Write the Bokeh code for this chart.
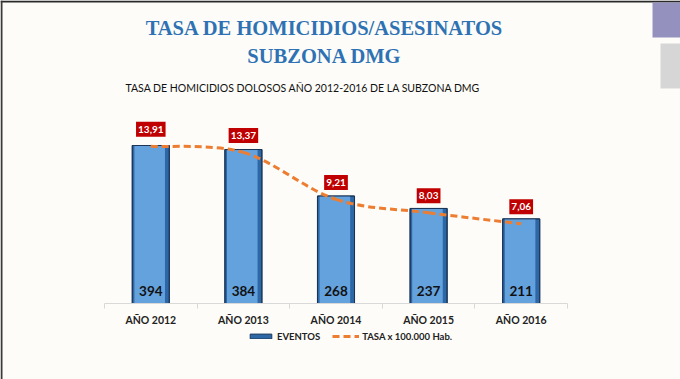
from bokeh.plotting import figure
from bokeh.models import Range1d, FixedTicker, Legend, LegendItem, Label
from bokeh.core.properties import value
from bokeh.embed import file_html
from bokeh.resources import INLINE

# ---- data ----
categories = ["AÑO 2012", "AÑO 2013", "AÑO 2014", "AÑO 2015", "AÑO 2016"]
eventos = [394, 384, 268, 237, 211]
tasa = [13.91, 13.37, 9.21, 8.03, 7.06]
tasa_labels = ["13,91", "13,37", "9,21", "8,03", "7,06"]

title_1 = "TASA DE HOMICIDIOS/ASESINATOS"
title_2 = "SUBZONA DMG"
subtitle = "TASA DE HOMICIDIOS DOLOSOS AÑO 2012-2016 DE LA SUBZONA DMG"
legend_bar = "EVENTOS"
legend_line = "TASA x 100.000 Hab."

# ---- layout constants (pixels) ----
W, H = 680, 379
BASE = 303            # baseline, px from top
LEFT, RIGHT = 104, 567
BAR_PX = 0.401        # px per event
RATE_PX = 11.3        # px per rate unit
BG = "#fdfcf8"
SANS = "Lato"

n = len(categories)
ppu = (RIGHT - LEFT) / n
xs = [i + 0.5 for i in range(n)]
below = H - BASE

p = figure(width=W, height=H, output_backend="svg", toolbar_location=None,
           x_range=Range1d(-LEFT / ppu, n + (W - RIGHT) / ppu),
           y_range=Range1d(-below / BAR_PX, BASE / BAR_PX),
           y_axis_location=None,
           min_border_left=0, min_border_right=0, min_border_top=0, min_border_bottom=0)
p.extra_y_ranges = {"rate": Range1d(-below / RATE_PX, BASE / RATE_PX), "px": Range1d(-below, BASE)}
p.extra_x_ranges = {"px": Range1d(0, W)}
p.background_fill_color = BG
p.border_fill_color = BG
p.outline_line_color = None
p.grid.visible = False

# decorative frame edges and side blocks
p.quad(left=[0], right=[W], top=[BASE], bottom=[BASE - 2], x_range_name="px", y_range_name="px",
       fill_color="#2a2a2a", line_color=None)
p.quad(left=[0], right=[2], top=[BASE], bottom=[-below], x_range_name="px", y_range_name="px",
       fill_color="#3a3a3a", line_color=None)
p.quad(left=[652], right=[W], top=[BASE - 2], bottom=[BASE - 37], x_range_name="px", y_range_name="px",
       fill_color="#9591be", line_color=None)
p.quad(left=[660], right=[W], top=[BASE - 43], bottom=[BASE - 88], x_range_name="px", y_range_name="px",
       fill_color="#d6d6d6", line_color=None)

# titles
for txt, yy in [(title_1, BASE - 27), (title_2, BASE - 55)]:
    p.add_layout(Label(x=324, y=yy, x_range_name="px", y_range_name="px", text=txt,
                       text_align="center", text_baseline="middle",
                       text_font="Liberation Serif", text_font_style="bold",
                       text_font_size="20.5px", text_color="#2e72b4"))
p.add_layout(Label(x=125, y=BASE - 87, x_range_name="px", y_range_name="px", text=subtitle,
                   text_align="left", text_baseline="middle",
                   text_font=SANS, text_font_size="10.5px", text_color="#111111"))

# bars
bar_r = p.vbar(x=xs, top=eventos, width=0.4, fill_color="#2d67a6", line_color="#1a3557", line_width=1)
p.vbar(x=[x - 0.012 for x in xs], top=eventos, width=0.33, fill_color="#64a2de", line_color=None)
p.vbar(x=xs, top=eventos, width=0.4, fill_color=None, line_color="#1a3557", line_width=1)

p.text(x=xs, y=[0] * n, text=[str(v) for v in eventos], text_align="center", text_baseline="alphabetic",
       y_offset=-13, text_font=value(SANS), text_font_style="bold", text_font_size="13.5px",
       text_color="#111111")

# smoothed dashed line (Catmull-Rom through the data points)
pts = list(zip(xs, tasa))
x0, y0, x1, y1, cx0, cy0, cx1, cy1 = ([] for _ in range(8))
for i in range(n - 1):
    pm = pts[max(i - 1, 0)]
    pa = pts[i]
    pb = pts[i + 1]
    pn = pts[min(i + 2, n - 1)]
    x0.append(pa[0]); y0.append(pa[1]); x1.append(pb[0]); y1.append(pb[1])
    cx0.append(pa[0] + (pb[0] - pm[0]) / 6); cy0.append(pa[1] + (pb[1] - pm[1]) / 6)
    cx1.append(pb[0] - (pn[0] - pa[0]) / 6); cy1.append(pb[1] - (pn[1] - pa[1]) / 6)
line_r = p.bezier(x0=x0, y0=y0, x1=x1, y1=y1, cx0=cx0, cy0=cy0, cx1=cx1, cy1=cy1,
                  y_range_name="rate", line_color="#ed7d31", line_width=3, line_dash="7 4")

# rate labels
p.text(x=xs, y=tasa, text=tasa_labels, y_range_name="rate", y_offset=-17,
       text_align="center", text_baseline="middle", text_font=value(SANS),
       text_font_style="bold", text_font_size="10px", text_color="white",
       background_fill_color="#c00000", padding=(2, 4))

# x axis drawn at the zero baseline
ax = p.xaxis[0]
ax.fixed_location = 0
ax.ticker = FixedTicker(ticks=xs, minor_ticks=[float(i) for i in range(n + 1)])
ax.major_label_overrides = {x: c for x, c in zip(xs, categories)}
ax.bounds = (0, n)
ax.axis_line_color = "#d9d9d9"
ax.major_tick_line_color = None
ax.major_tick_out = 0
ax.major_tick_in = 0
ax.minor_tick_line_color = "#d9d9d9"
ax.minor_tick_out = 5
ax.minor_tick_in = 0
ax.major_label_standoff = 5
ax.major_label_text_font = SANS
ax.major_label_text_font_style = "bold"
ax.major_label_text_font_size = "10.5px"
ax.major_label_text_color = "#222222"

legend = Legend(items=[LegendItem(label=legend_bar, renderers=[bar_r]),
                       LegendItem(label=legend_line, renderers=[line_r])],
                orientation="horizontal", location=(247, 37),
                glyph_width=27, glyph_height=6, label_height=12, label_standoff=3, spacing=12,
                padding=0, margin=0, border_line_color=None, background_fill_alpha=0,
                label_text_font=SANS, label_text_font_style="bold",
                label_text_font_size="9.5px", label_text_color="#222222")
p.add_layout(legend, "center")

open("out.html", "w").write(file_html(p, INLINE))
